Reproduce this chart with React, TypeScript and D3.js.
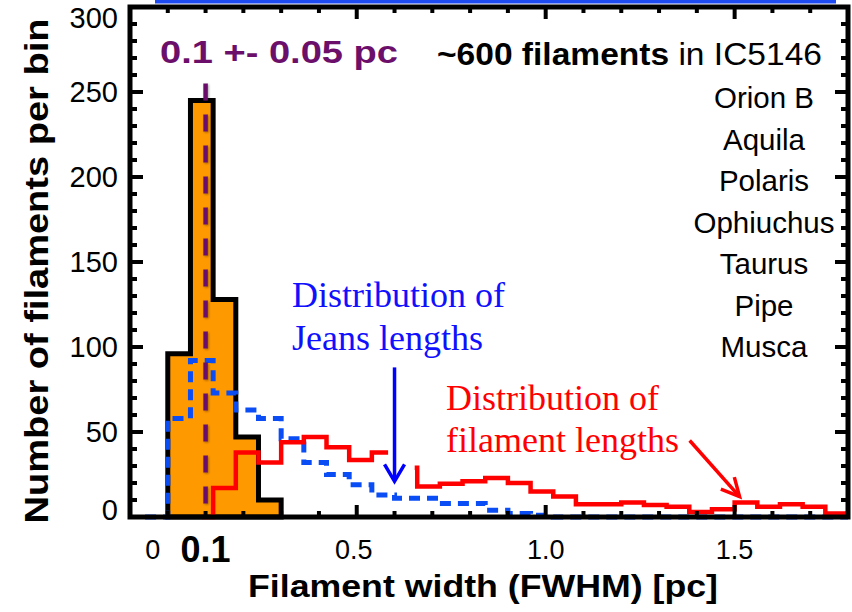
import React from 'react';
import * as d3 from 'd3';

// Histogram bin width (pc) shared by all three distributions
const BIN = 0.06;

// Filament widths (FWHM) — filled histogram
const widthStart = 0;
const widthCounts = [96, 245, 128, 47, 10];

// Jeans lengths — dashed blue histogram
const jeansStart = -0.06;
const jeansCounts = [
  0, 58, 92, 73, 63, 58, 46, 32, 25, 19, 13, 11, 11, 8, 8, 4, 2, 1,
  0, 0, 0, 0, 0, 0, 0, 0, 0, 0, 0, 0, 0,
];

// Filament lengths — red histogram
const lengthLead = 0.09;
const lengthStart = 0.12;
const lengthCounts = [
  17, 38, 32, 44, 47, 41, 33.5, 38, 29, 18, 19.5, 21, 23, 20, 15, 12,
  7.5, 7.5, 8.5, 7, 6, 3, 4.5, 8.5, 6, 7.5, 6, 2,
];
// x-range where the red curve is interrupted around the Jeans arrow
const lengthGap = [0.583, 0.66];

// Characteristic width marker
const peakWidth = 0.1;
const peakLabel = '0.1 +- 0.05 pc';

// Annotation arrow anchors (pc, count)
const jeansArrow = { x: 0.6, from: 88, to: 21 };
const lengthArrow = { x1: 1.381, y1: 45, x2: 1.513, y2: 12 };

// Axis ticks
const xTickValues = [0, 0.1, 0.5, 1.0, 1.5];
const xTickLabels = ['0', '0.1', '0.5', '1.0', '1.5'];
const xMinorTicks = d3.range(0, 1.75, 0.1);
const xMajorTicks = [0.5, 1.0, 1.5];
const yTickValues = [0, 50, 100, 150, 200, 250, 300];
const yMinorTicks = d3.range(10, 300, 10);

const regions = ['Orion B', 'Aquila', 'Polaris', 'Ophiuchus', 'Taurus', 'Pipe', 'Musca'];

const W = 852;
const H = 612;
const x = d3.scaleLinear().domain([-0.1, 1.8]).range([130, 848]);
const y = d3.scaleLinear().domain([0, 300]).range([517, 7]);

const SANS = '"Liberation Sans", Arial, Helvetica, sans-serif';
const SERIF = '"Liberation Serif", "Times New Roman", serif';

function stepPath(start: number, counts: number[], lead?: number, close = false) {
  const p = d3.path();
  p.moveTo(x(lead ?? start), y(0));
  p.lineTo(x(start), y(0));
  counts.forEach((c, i) => {
    p.lineTo(x(start + i * BIN), y(c));
    p.lineTo(x(start + (i + 1) * BIN), y(c));
  });
  if (close) {
    p.lineTo(x(start + counts.length * BIN), y(0));
    p.closePath();
  }
  return p.toString();
}

function arrowHead(x1: number, y1: number, x2: number, y2: number, len: number, half: number) {
  const dx = x2 - x1;
  const dy = y2 - y1;
  const n = Math.hypot(dx, dy);
  const ux = dx / n;
  const uy = dy / n;
  const bx = x2 - ux * len;
  const by = y2 - uy * len;
  return `M${bx - uy * half},${by + ux * half}L${x2},${y2}L${bx + uy * half},${by - ux * half}`;
}

export default function App() {
  const right = x(1.8);
  const left = x(-0.1);
  const top = y(300);
  const bottom = y(0);

  const ja = { x: x(jeansArrow.x), y1: y(jeansArrow.from), y2: y(jeansArrow.to) };
  const la = {
    x1: x(lengthArrow.x1), y1: y(lengthArrow.y1),
    x2: x(lengthArrow.x2), y2: y(lengthArrow.y2),
  };

  return (
    <svg
      width={W}
      height={H}
      viewBox={`0 0 ${W} ${H}`}
      style={{ position: 'absolute', left: 0, top: 0, background: '#fff' }}
    >
      <defs>
        <filter id="soft" filterUnits="userSpaceOnUse" x={0} y={0} width={W} height={H}>
          <feDropShadow dx="1" dy="1" stdDeviation="1.2" floodColor="#000" floodOpacity="0.35" />
        </filter>
        <clipPath id="lengthClip">
          <rect x={left} y={0} width={x(lengthGap[0]) - left} height={H} />
          <rect x={x(lengthGap[1]) - 2.5} y={0} width={right - x(lengthGap[1]) + 10} height={H} />
        </clipPath>
      </defs>

      <rect x={0} y={0} width={W} height={H} fill="#fff" />
      {/* thin blue banner edge along the top */}
      <rect x={155} y={0} width={681} height={3.5} fill="#1E4BF2" />

      {/* filament width histogram */}
      <path
        d={stepPath(widthStart, widthCounts, undefined, true)}
        fill="#FF9900"
        stroke="#000"
        strokeWidth={5}
        strokeLinejoin="miter"
      />

      {/* Jeans length distribution */}
      <path
        d={stepPath(jeansStart, jeansCounts)}
        fill="none"
        stroke="#0A4DF5"
        strokeWidth={5}
        strokeDasharray="11 7"
      />

      {/* filament length distribution */}
      <path
        d={stepPath(lengthStart, lengthCounts, lengthLead)}
        fill="none"
        stroke="#FF0000"
        strokeWidth={4.5}
        clipPath="url(#lengthClip)"
      />

      {/* peak width marker */}
      <line
        x1={x(peakWidth)}
        x2={x(peakWidth)}
        y1={y(255)}
        y2={y(7)}
        stroke="#6B0F6B"
        strokeWidth={4.5}
        strokeDasharray="17 14"
        filter="url(#soft)"
      />
      <text
        x={160}
        y={63}
        fontFamily={SANS}
        fontWeight="bold"
        fontSize={31}
        fill="#6B0F6B"
        textLength={238}
        lengthAdjust="spacingAndGlyphs"
      >
        {peakLabel}
      </text>

      {/* frame */}
      <rect
        x={left}
        y={top}
        width={right - left}
        height={bottom - top}
        fill="none"
        stroke="#000"
        strokeWidth={5}
      />

      {/* x ticks, bottom and top */}
      {xMinorTicks.map((v) => {
        const major = xMajorTicks.some((m) => Math.abs(m - v) < 1e-6);
        const len = major ? 12 : 6;
        return (
          <g key={`xt${v}`} stroke="#000" strokeWidth={4}>
            <line x1={x(v)} x2={x(v)} y1={bottom} y2={bottom - len} />
            <line x1={x(v)} x2={x(v)} y1={top} y2={top + len} />
          </g>
        );
      })}

      {/* y ticks, left and right */}
      {yMinorTicks.map((v) => {
        const major = v % 50 === 0;
        const len = major ? 13 : 7;
        return (
          <g key={`yt${v}`} stroke="#000" strokeWidth={4}>
            <line x1={left} x2={left + len} y1={y(v)} y2={y(v)} />
            <line x1={right} x2={right - len} y1={y(v)} y2={y(v)} />
          </g>
        );
      })}

      {/* y tick labels */}
      {yTickValues.map((v) => {
        const dy = v === 300 ? 21 : v === 0 ? 3 : 10;
        return (
          <text
            key={`yl${v}`}
            x={118}
            y={y(v) + dy}
            textAnchor="end"
            fontFamily={SANS}
            fontSize={29}
            fill="#000"
          >
            {v}
          </text>
        );
      })}

      {/* x tick labels */}
      {xTickValues.map((v, i) => {
        const emphasised = v === peakWidth;
        const dx = v === 0 ? -15 : v === 0.5 ? -3 : 0;
        return (
          <text
            key={`xl${v}`}
            x={x(v) + dx}
            y={emphasised ? 562 : 559}
            textAnchor="middle"
            fontFamily={SANS}
            fontSize={emphasised ? 36 : 27}
            fontWeight={emphasised ? 'bold' : 'normal'}
            fill="#000"
          >
            {xTickLabels[i]}
          </text>
        );
      })}

      {/* axis titles */}
      <text
        x={483}
        y={597}
        textAnchor="middle"
        fontFamily={SANS}
        fontWeight="bold"
        fontSize={32}
        textLength={470}
        lengthAdjust="spacingAndGlyphs"
      >
        Filament width (FWHM) [pc]
      </text>
      <text
        transform={`translate(48,271) rotate(-90)`}
        textAnchor="middle"
        fontFamily={SANS}
        fontWeight="bold"
        fontSize={34}
        textLength={505}
        lengthAdjust="spacingAndGlyphs"
      >
        Number of filaments per bin
      </text>

      {/* sample description */}
      <text
        x={822}
        y={65}
        textAnchor="end"
        fontFamily={SANS}
        fontSize={32}
        fill="#000"
        textLength={385}
        lengthAdjust="spacingAndGlyphs"
      >
        <tspan fontWeight="bold">~600 filaments</tspan>
        <tspan> in IC5146</tspan>
      </text>
      {regions.map((r, i) => (
        <text
          key={r}
          x={764}
          y={108 + i * 41.5}
          textAnchor="middle"
          fontFamily={SANS}
          fontSize={29.5}
          fill="#000"
        >
          {r}
        </text>
      ))}

      {/* Jeans length annotation */}
      <text x={292} y={307} fontFamily={SERIF} fontSize={36} fill="#1010FF">
        Distribution of
      </text>
      <text x={292} y={350} fontFamily={SERIF} fontSize={36} fill="#1010FF">
        Jeans lengths
      </text>
      <line x1={ja.x} x2={ja.x} y1={ja.y1} y2={ja.y2 - 2} stroke="#0000FF" strokeWidth={3.5} />
      <path
        d={arrowHead(ja.x, ja.y1, ja.x, ja.y2, 17, 10)}
        fill="none"
        stroke="#0000FF"
        strokeWidth={3.5}
      />

      {/* filament length annotation */}
      <text x={446} y={410} fontFamily={SERIF} fontSize={36} fill="#FF0000">
        Distribution of
      </text>
      <text x={446} y={452} fontFamily={SERIF} fontSize={36} fill="#FF0000">
        filament lengths
      </text>
      <line x1={la.x1} y1={la.y1} x2={la.x2} y2={la.y2} stroke="#FF0000" strokeWidth={3.5} />
      <path
        d={arrowHead(la.x1, la.y1, la.x2, la.y2, 18, 9)}
        fill="none"
        stroke="#FF0000"
        strokeWidth={3.5}
      />
    </svg>
  );
}
